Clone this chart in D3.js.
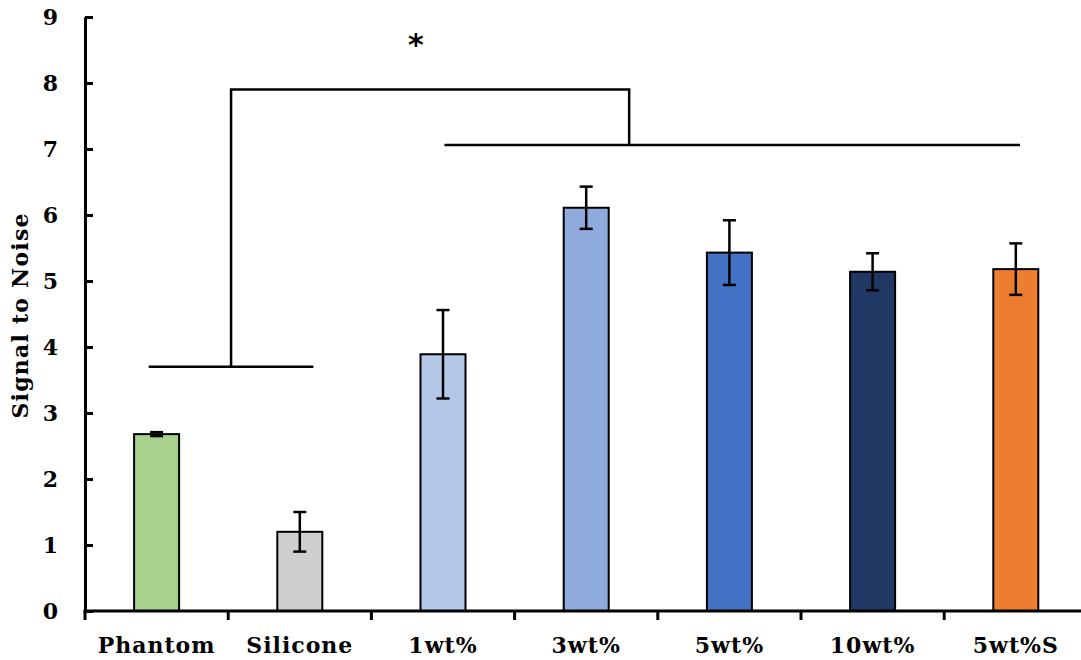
<!DOCTYPE html>
<html>
<head>
<meta charset="utf-8">
<script src="https://cdn.jsdelivr.net/npm/d3@7"></script>
<style>
    body { margin: 0; background: #fff; }
    svg { display: block; }
    .tickLabel { font-family: "DejaVu Serif", serif; font-weight: bold; fill: #000; }
</style>
</head>
<body>
<svg id="chart" width="1081" height="660"></svg>
<script>
// chart data
var categories = ["Phantom", "Silicone", "1wt%", "3wt%", "5wt%", "10wt%", "5wt%S"];
var meanValues = [2.68, 1.20, 3.89, 6.11, 5.43, 5.14, 5.18];
var errorValues = [0.03, 0.30, 0.67, 0.32, 0.49, 0.28, 0.39];
var barColors = ["#A9D18E", "#D0CECE", "#B4C7E7", "#8FAADC", "#4472C4", "#203864", "#ED7D31"];
var yTicks = [0, 1, 2, 3, 4, 5, 6, 7, 8, 9];

// significance bracket, x in category index units, y in data units
var bracketLow = {from: -0.055, to: 1.095, y: 3.70};
var bracketHigh = {from: 2.01, to: 6.03, y: 7.06};
var bracketTop = {y: 7.90};
var starLabel = {x: 1.81, y: 8.67, text: "*"};

const width = 1081;
const height = 660;
const margin = {left: 85, top: 17, bottom: 49};

var svg = d3.select("#chart");

var xScale = d3.scaleBand()
    .domain(categories)
    .range([margin.left, margin.left + 7 * 143.2])
    .paddingInner(0)
    .paddingOuter(0);

// linear helper for bracket positions (index -> band centre)
var xIndex = d3.scaleLinear()
    .domain([0, 1])
    .range([xScale(categories[0]) + xScale.bandwidth() / 2,
            xScale(categories[1]) + xScale.bandwidth() / 2]);

var yScale = d3.scaleLinear()
    .domain([0, 9])
    .range([height - margin.bottom, margin.top]);

var barWidth = 45;

// bars
svg.append("g")
    .selectAll("rect")
    .data(categories)
    .enter()
    .append("rect")
    .attr("x", (d, i) => xScale(d) + xScale.bandwidth() / 2 - barWidth / 2)
    .attr("y", (d, i) => yScale(meanValues[i]))
    .attr("width", barWidth)
    .attr("height", (d, i) => yScale(0) - yScale(meanValues[i]))
    .attr("fill", (d, i) => barColors[i])
    .attr("stroke", "#000")
    .attr("stroke-width", 2);

// error bars
var errG = svg.append("g")
    .attr("stroke", "#000")
    .attr("stroke-width", 2.5);

categories.forEach((c, i) => {
    var cx = xScale(c) + xScale.bandwidth() / 2;
    var top = yScale(meanValues[i] + errorValues[i]);
    var bottom = yScale(meanValues[i] - errorValues[i]);
    errG.append("line").attr("x1", cx).attr("x2", cx).attr("y1", top).attr("y2", bottom);
    errG.append("line").attr("x1", cx - 6.5).attr("x2", cx + 6.5).attr("y1", top).attr("y2", top);
    errG.append("line").attr("x1", cx - 6.5).attr("x2", cx + 6.5).attr("y1", bottom).attr("y2", bottom);
});

// y axis
var yAxis = svg.append("g")
    .attr("transform", "translate(" + margin.left + ",0)")
    .call(d3.axisRight(yScale).tickValues(yTicks).tickSize(8).tickSizeOuter(0).tickFormat(""));
yAxis.select(".domain").attr("stroke", "#000").attr("stroke-width", 3);
yAxis.selectAll(".tick line").attr("stroke", "#000").attr("stroke-width", 3);

svg.append("g")
    .selectAll("text")
    .data(yTicks)
    .enter()
    .append("text")
    .attr("class", "tickLabel")
    .attr("x", 58)
    .attr("y", d => yScale(d) + 8)
    .attr("text-anchor", "end")
    .attr("font-size", 22)
    .text(d => d);

// x axis (ticks at category boundaries)
var boundaries = categories.map(c => xScale(c)).slice(1).concat([xScale.range()[1]]);
var xAxisG = svg.append("g")
    .attr("transform", "translate(0," + yScale(0) + ")");
xAxisG.append("line")
    .attr("x1", margin.left - 1.5)
    .attr("x2", xScale.range()[1])
    .attr("stroke", "#000")
    .attr("stroke-width", 3);
xAxisG.selectAll(".xtick")
    .data(boundaries)
    .enter()
    .append("line")
    .attr("class", "xtick")
    .attr("x1", d => d).attr("x2", d => d)
    .attr("y1", 0).attr("y2", 9)
    .attr("stroke", "#000")
    .attr("stroke-width", 3);
xAxisG.append("line")
    .attr("x1", margin.left).attr("x2", margin.left)
    .attr("y1", 0).attr("y2", 9)
    .attr("stroke", "#000")
    .attr("stroke-width", 3);

svg.append("g")
    .selectAll("text")
    .data(categories)
    .enter()
    .append("text")
    .attr("class", "tickLabel")
    .attr("x", d => xScale(d) + xScale.bandwidth() / 2)
    .attr("y", 653)
    .attr("text-anchor", "middle")
    .attr("font-size", 22)
    .attr("letter-spacing", 1)
    .text(d => d);

// y axis title
svg.append("text")
    .attr("class", "tickLabel")
    .attr("transform", "translate(28," + 316 + ") rotate(-90)")
    .attr("text-anchor", "middle")
    .attr("font-size", 22)
    .attr("textLength", 205)
    .attr("lengthAdjust", "spacing")
    .text("Signal to Noise");

// significance bracket
var bracket = svg.append("g")
    .attr("stroke", "#000")
    .attr("stroke-width", 2.5)
    .attr("fill", "none");

var leftMid = (xIndex(bracketLow.from) + xIndex(bracketLow.to)) / 2;
var rightMid = xIndex(3.30);

bracket.append("line")
    .attr("x1", xIndex(bracketLow.from)).attr("x2", xIndex(bracketLow.to))
    .attr("y1", yScale(bracketLow.y)).attr("y2", yScale(bracketLow.y));
bracket.append("line")
    .attr("x1", xIndex(bracketHigh.from)).attr("x2", xIndex(bracketHigh.to))
    .attr("y1", yScale(bracketHigh.y)).attr("y2", yScale(bracketHigh.y));
bracket.append("path")
    .attr("d", d3.line()([
        [leftMid, yScale(bracketLow.y)],
        [leftMid, yScale(bracketTop.y)],
        [rightMid, yScale(bracketTop.y)],
        [rightMid, yScale(bracketHigh.y)]
    ]));

svg.append("text")
    .attr("x", xIndex(starLabel.x))
    .attr("y", yScale(starLabel.y) + 16)
    .attr("text-anchor", "middle")
    .attr("font-family", "'DejaVu Sans', sans-serif")
    .attr("font-weight", "bold")
    .attr("font-size", 30)
    .text(starLabel.text);
</script>
</body>
</html>
